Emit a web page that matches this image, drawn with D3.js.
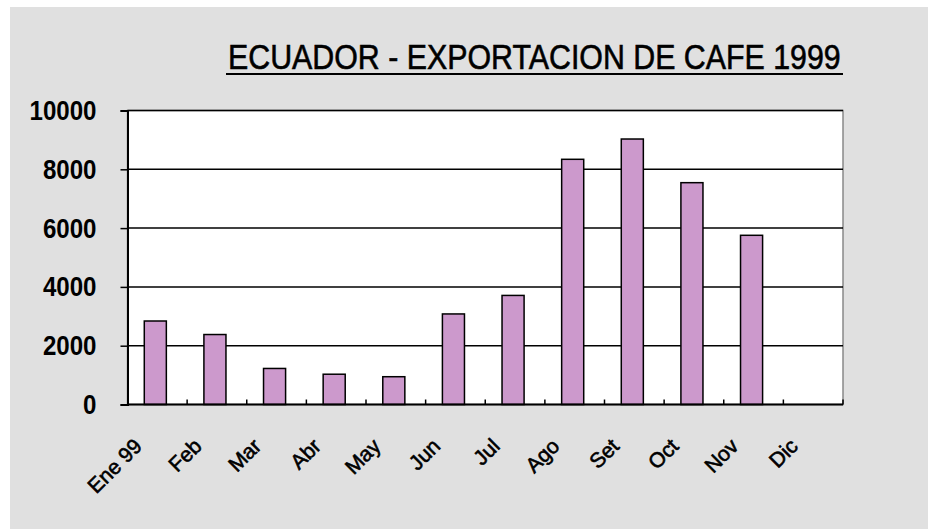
<!DOCTYPE html>
<html>
<head>
<meta charset="utf-8">
<script src="https://cdn.jsdelivr.net/npm/d3@7"></script>
<style>
  body { margin: 0; background: #fff; }
  svg { display: block; }
</style>
</head>
<body>
<div id="chart"></div>
<script>
const months = ['Ene 99', 'Feb', 'Mar', 'Abr', 'May', 'Jun', 'Jul', 'Ago', 'Set', 'Oct', 'Nov', 'Dic'];
const exports = [2840, 2380, 1226, 1030, 945, 3080, 3710, 8340, 9030, 7545, 5755, 0];
const yTicks = [0, 2000, 4000, 6000, 8000, 10000];
const title = 'ECUADOR - EXPORTACION DE CAFE 1999';

const W = 928, H = 529;
const margin = { top: 110.5, right: 85, bottom: 124.5, left: 127.5 };
const width = W - margin.left - margin.right;
const height = H - margin.top - margin.bottom;

const svg = d3.select('#chart').append('svg')
  .attr('width', W)
  .attr('height', H);

// gray panel
svg.append('rect')
  .attr('x', 10).attr('y', 7)
  .attr('width', W - 10).attr('height', H - 7)
  .attr('fill', '#e0e0e0');

// title: squeezed horizontally to look like a narrow face, then underlined
const titleG = svg.append('g');
const titleText = titleG.append('text')
  .attr('x', 0)
  .attr('y', 0)
  .attr('font-family', '"Liberation Sans", Arial, sans-serif')
  .attr('font-size', '35px')
  .attr('fill', '#000')
  .attr('stroke', '#000')
  .attr('stroke-width', 0.6)
  .text(title);
const titleLen = titleText.node().getComputedTextLength();
titleG.attr('transform', `translate(228,69) scale(${613 / titleLen},1)`);
svg.append('line')
  .attr('x1', 226).attr('x2', 843)
  .attr('y1', 74).attr('y2', 74)
  .attr('stroke', '#000').attr('stroke-width', 2);

const g = svg.append('g').attr('transform', `translate(${margin.left},${margin.top})`);

const x = d3.scaleBand().domain(months).range([0, width]);
const y = d3.scaleLinear().domain([0, 10000]).range([height, 0]);

// plot area
g.append('rect')
  .attr('width', width).attr('height', height)
  .attr('fill', '#fff')
  .attr('stroke', '#888').attr('stroke-width', 1.5);

// gridlines
g.selectAll('.grid')
  .data(yTicks.filter((d) => d > 0))
  .enter().append('line')
  .attr('class', 'grid')
  .attr('x1', 0).attr('x2', width)
  .attr('y1', (d) => y(d)).attr('y2', (d) => y(d))
  .attr('stroke', '#000').attr('stroke-width', 1.5);

// bars
const barW = x.bandwidth() * 0.37;
g.selectAll('.bar')
  .data(exports.map((v, i) => ({ m: months[i], v })).filter((d) => d.v > 0))
  .enter().append('rect')
  .attr('class', 'bar')
  .attr('x', (d) => x(d.m) + x.bandwidth() / 2 - barW / 2 - 2)
  .attr('y', (d) => y(d.v))
  .attr('width', barW)
  .attr('height', (d) => height - y(d.v))
  .attr('fill', '#cc99cc')
  .attr('stroke', '#000').attr('stroke-width', 1.5);

// y axis
const yAxis = g.append('g')
  .call(d3.axisLeft(y).tickValues(yTicks).tickSize(7).tickPadding(24).tickFormat(d3.format('d')));
yAxis.selectAll('text')
  .attr('font-family', '"Liberation Sans", Arial, sans-serif')
  .attr('font-weight', 'bold')
  .attr('font-size', '28px')
  .attr('fill', '#000')
  .attr('textLength', (d) => String(d).length * 13.4)
  .attr('lengthAdjust', 'spacingAndGlyphs');
yAxis.select('.domain').attr('stroke', '#000').attr('stroke-width', 2);
yAxis.selectAll('.tick line').attr('stroke', '#000').attr('stroke-width', 1.5);

// x axis: ticks at category boundaries
const xAxis = g.append('g').attr('transform', `translate(0,${height})`);
xAxis.append('line')
  .attr('x1', 0).attr('x2', width)
  .attr('stroke', '#000').attr('stroke-width', 2);
xAxis.selectAll('.xt')
  .data(months)
  .enter().append('line')
  .attr('class', 'xt')
  .attr('x1', (d) => x(d) + x.bandwidth()).attr('x2', (d) => x(d) + x.bandwidth())
  .attr('y1', 0).attr('y2', -5)
  .attr('stroke', '#000').attr('stroke-width', 1.5);

xAxis.selectAll('.xl')
  .data(months)
  .enter().append('text')
  .attr('class', 'xl')
  .attr('transform', (d) => `translate(${x(d) + x.bandwidth() / 2 - 14},${43}) rotate(-45)`)
  .attr('text-anchor', 'end')
  .attr('font-family', '"Liberation Sans", Arial, sans-serif')
  .attr('font-size', '21px')
  .attr('fill', '#000')
  .attr('stroke', '#000')
  .attr('stroke-width', 0.6)
  .text((d) => d);
</script>
</body>
</html>
